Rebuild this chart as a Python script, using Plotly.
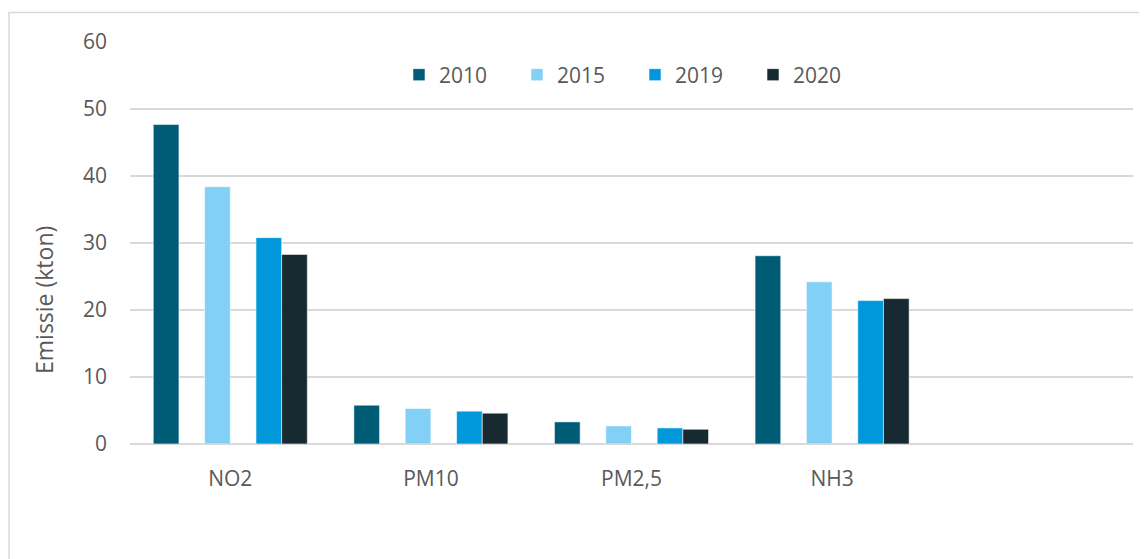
import plotly.graph_objects as go

categories = ["NO2", "PM10", "PM2,5", "NH3"]
years = ["2010", "2015", "2019", "2020"]
v2010 = [47.7, 5.8, 3.3, 28.1]
v2015 = [38.4, 5.3, 2.7, 24.2]
v2019 = [30.8, 4.9, 2.4, 21.4]
v2020 = [28.3, 4.6, 2.2, 21.7]
colors = ["#005C76", "#82D0F5", "#0098DA", "#182A31"]
y_ticks = [0, 10, 20, 30, 40, 50, 60]

FONT = "Open Sans"
TXT = "#595959"
GRID = "#D9D9D9"

series = [("2010", v2010, colors[0]), (None, None, None), ("2015", v2015, colors[1]),
          (None, None, None), ("2019", v2019, colors[2]), ("2020", v2020, colors[3])]

fig = go.Figure()
for name, vals, col in series:
    if name is None:
        fig.add_trace(go.Bar(x=categories, y=[None] * len(categories), showlegend=False,
                             hoverinfo="skip", marker=dict(color="rgba(0,0,0,0)")))
    else:
        fig.add_trace(go.Bar(x=categories, y=vals, name=name,
                             marker=dict(color=col, line=dict(color="rgba(255,255,255,0.55)", width=1))))

# page body has an 8px margin; positions below are in figure coordinates
OFF = 8
W, H = 1147, 559
L, R, T, B = 130 - OFF, 22, 42 - OFF, 559 - (444 - OFF)
pw, ph = W - L - R, H - T - B
base = H - B  # pixel y of the plot bottom within the figure


def py(screen_y):
    return (base - (screen_y - OFF)) / ph


def px(screen_x):
    return ((screen_x - OFF) - L) / pw


fig.update_layout(
    width=W, height=H,
    margin=dict(l=L, r=R, t=T, b=B),
    paper_bgcolor="white", plot_bgcolor="white",
    barmode="group", bargap=0.232, bargroupgap=0,
    font=dict(family=FONT, size=21, color=TXT),
    showlegend=True,
    legend=dict(orientation="h", x=px(399), xanchor="left", y=py(75),
                yanchor="middle", entrywidth=73, entrywidthmode="pixels",
                font=dict(family=FONT, size=21, color=TXT), bgcolor="rgba(0,0,0,0)",
                traceorder="normal"),
    xaxis=dict(type="category", categoryorder="array", categoryarray=categories,
               range=[-0.5, 4.5], showgrid=False, showline=False, zeroline=False,
               ticks="", ticklabelstandoff=20, tickfont=dict(family=FONT, size=21, color=TXT)),
    yaxis=dict(range=[0, 60], tickvals=y_ticks, showgrid=True, gridcolor=GRID, gridwidth=1.5,
               zeroline=True, zerolinecolor=GRID, zerolinewidth=1.5, showline=False,
               ticks="", ticklabelstandoff=22, tickfont=dict(family=FONT, size=21, color=TXT)),
    annotations=[dict(text="Emissie (kton)", xref="paper", yref="paper",
                      x=px(44), y=py(300), textangle=-90,
                      showarrow=False, xanchor="center", yanchor="middle",
                      font=dict(family=FONT, size=23, color=TXT))],
    shapes=[dict(type="rect", xref="paper", yref="paper",
                 x0=px(9), x1=px(1250),
                 y0=py(650), y1=py(12.5),
                 line=dict(color=GRID, width=1.5), fillcolor="rgba(0,0,0,0)", layer="below")],
)

fig.write_html("out.html")
